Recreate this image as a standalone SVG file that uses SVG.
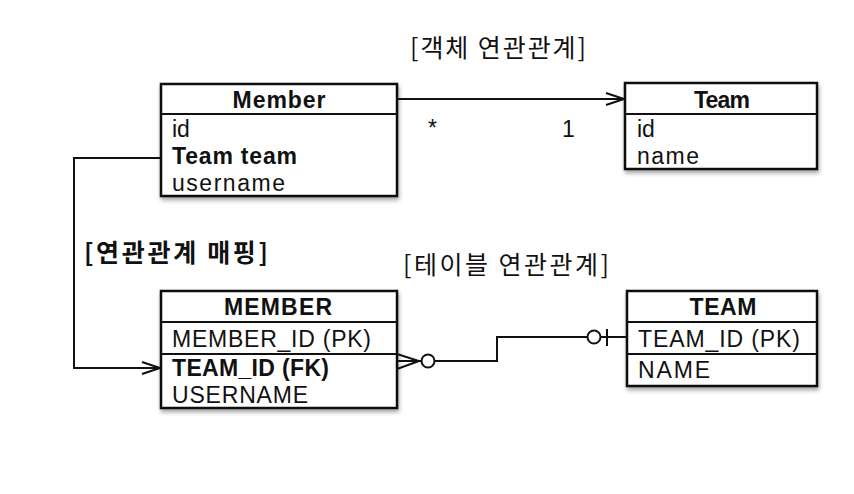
<svg xmlns="http://www.w3.org/2000/svg" width="854" height="494" viewBox="0 0 854 494">
<defs>
<filter id="sh" x="-10%" y="-10%" width="125%" height="130%">
<feGaussianBlur in="SourceAlpha" stdDeviation="2"/>
<feOffset dx="1" dy="3" result="b"/>
<feComponentTransfer><feFuncA type="linear" slope="0.35"/></feComponentTransfer>
<feMerge><feMergeNode/><feMergeNode in="SourceGraphic"/></feMerge>
</filter>
<marker id="open" viewBox="0 0 20 14" refX="19" refY="7" markerWidth="20" markerHeight="14" markerUnits="userSpaceOnUse" orient="auto">
<path d="M1,1 L19,7 L1,13" fill="none" stroke="#111" stroke-width="2"/>
</marker>
</defs>
<style>
.box{fill:#fff;stroke:#111;stroke-width:2.5}
.ln{stroke:#111;stroke-width:2;fill:none}
.t{font-family:"Liberation Sans","Noto Sans CJK KR",sans-serif;font-size:23px;fill:#111}
.b{font-weight:bold}
.h{text-anchor:middle;font-weight:bold;font-size:23px}
.k{font-family:"Noto Sans CJK KR","Liberation Sans",sans-serif;font-size:25px;fill:#111}
</style>
<rect width="854" height="494" fill="#fff"/>

<g id="label-object">
<text class="k" x="410" y="57" textLength="176">[객체 연관관계]</text>
</g>
<g id="label-mapping">
<text class="k" x="84" y="262" font-weight="bold" font-size="23" textLength="184">[연관관계 매핑]</text>
</g>
<g id="label-table">
<text class="k" x="403" y="274" textLength="206">[테이블 연관관계]</text>
</g>

<g id="Member">
<rect class="box" x="161" y="84" width="236" height="112" filter="url(#sh)"/>
<line class="ln" x1="161" y1="114" x2="397" y2="114"/>
<text class="t h" x="279" y="108" textLength="93">Member</text>
<text class="t" x="172" y="137">id</text>
<text class="t b" x="172" y="164" textLength="125">Team team</text>
<text class="t" x="172" y="191" textLength="113">username</text>
</g>

<g id="Team">
<rect class="box" x="625" y="83" width="192" height="86" filter="url(#sh)"/>
<line class="ln" x1="625" y1="114" x2="817" y2="114"/>
<text class="t h" x="722" y="108" textLength="56">Team</text>
<text class="t" x="637" y="137">id</text>
<text class="t" x="637" y="164" textLength="62">name</text>
</g>

<g id="MEMBER">
<rect class="box" x="161" y="291" width="236" height="117" filter="url(#sh)"/>
<line class="ln" x1="161" y1="322" x2="397" y2="322"/>
<line class="ln" x1="161" y1="354" x2="397" y2="354"/>
<text class="t h" x="278" y="315" textLength="108">MEMBER</text>
<text class="t" x="172" y="347" textLength="199">MEMBER_ID (PK)</text>
<text class="t b" x="172" y="376" textLength="157">TEAM_ID (FK)</text>
<text class="t" x="172" y="403" textLength="136">USERNAME</text>
</g>

<g id="TEAM">
<rect class="box" x="627" y="291" width="190" height="95" filter="url(#sh)"/>
<line class="ln" x1="627" y1="322" x2="817" y2="322"/>
<line class="ln" x1="627" y1="354" x2="817" y2="354"/>
<text class="t h" x="723" y="315" textLength="67">TEAM</text>
<text class="t" x="638" y="347" textLength="162">TEAM_ID (PK)</text>
<text class="t" x="638" y="378" textLength="72">NAME</text>
</g>

<g id="connectors">
<line class="ln" x1="397" y1="99" x2="624" y2="99" marker-end="url(#open)"/>
<text class="t" x="428" y="136">*</text>
<text class="t" x="562" y="137">1</text>

<polyline class="ln" points="161,158 74,158 74,368 160,368" marker-end="url(#open)"/>

<path class="ln" d="M397,354 L419,361 L397,369 M397,361 L421,361"/>
<circle class="ln" cx="428" cy="361" r="6.5" fill="#fff"/>
<polyline class="ln" points="434.5,361 497,361 497,337 587.5,337"/>
<circle class="ln" cx="594" cy="337" r="6.5" fill="#fff"/>
<line class="ln" x1="600.5" y1="337" x2="627" y2="337"/>
<line class="ln" x1="607" y1="329" x2="607" y2="346"/>
</g>
</svg>
